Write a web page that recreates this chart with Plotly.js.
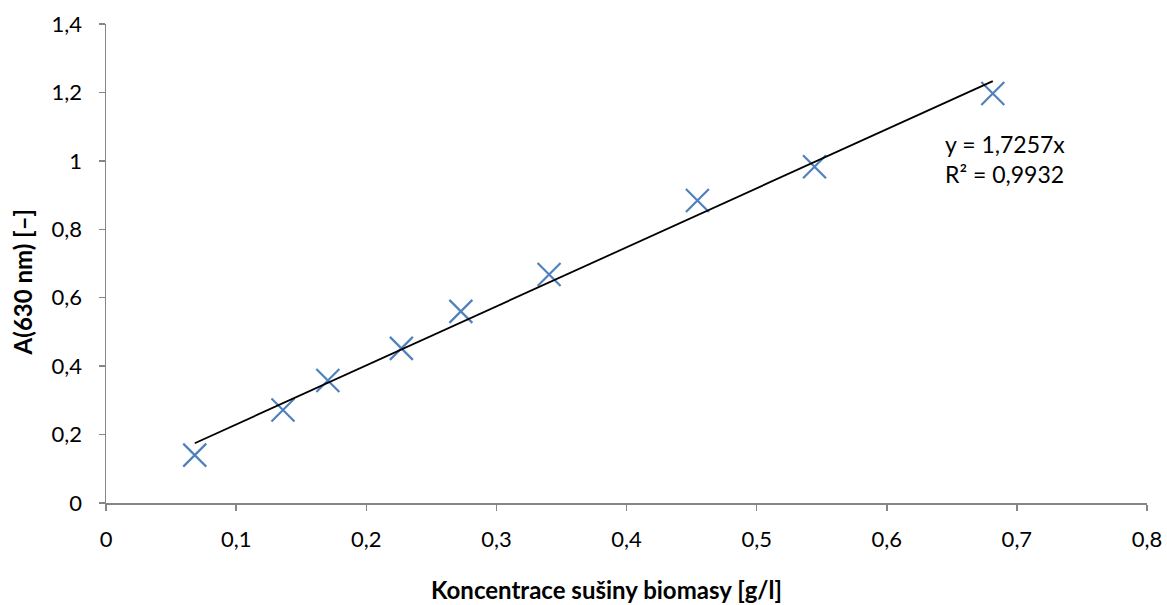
<!DOCTYPE html>
<html>
<head>
<meta charset="utf-8">
<script src="https://cdn.plot.ly/plotly-3.0.1.min.js"></script>
<style>html,body{margin:0;padding:0;background:#fff}#chart{width:1167px;height:605px}</style>
</head>
<body>
<div id="chart"></div>
<script>
// Data
const concentration = [0.0682, 0.136, 0.1705, 0.227, 0.2727, 0.3405, 0.4545, 0.5445, 0.6815];
const absorbance    = [0.140, 0.272, 0.358, 0.452, 0.560, 0.668, 0.884, 0.983, 1.197];
// Trendline as drawn in the picture
const trendSlope = [1.7257];
const trendOffset = [0.057];
const equationText = ["y = 1,7257x", "R² = 0,9932"];
const xTitle = "Koncentrace sušiny biomasy [g/l]";
const yTitle = "A(630 nm) [–]";
const xTicks = [0, 0.1, 0.2, 0.3, 0.4, 0.5, 0.6, 0.7, 0.8];
const yTicks = [0, 0.2, 0.4, 0.6, 0.8, 1, 1.2, 1.4];

const xMin = Math.min(...concentration), xMax = Math.max(...concentration);
const trendX = [xMin, xMax];
const trendY = trendX.map(v => trendSlope[0] * v + trendOffset[0]);

const font = "Lato, 'Open Sans', sans-serif";
const axisColor = '#868686';

const traces = [
  {
    x: concentration, y: absorbance, type: 'scatter', mode: 'markers',
    marker: {symbol: 'x-thin', size: 23, color: '#4F81BD', line: {color: '#4F81BD', width: 2.2}},
    showlegend: false, hoverinfo: 'x+y'
  },
  {
    x: trendX, y: trendY, type: 'scatter', mode: 'lines',
    line: {color: '#000000', width: 1.8},
    showlegend: false, hoverinfo: 'skip'
  }
];

const layout = {
  width: 1167, height: 605,
  margin: {l: 106, r: 19.5, t: 23.7, b: 102},
  paper_bgcolor: '#ffffff', plot_bgcolor: '#ffffff',
  separators: ', ',
  font: {family: font, size: 22, color: '#000000'},
  showlegend: false,
  xaxis: {
    range: [0, 0.8], tickvals: xTicks, ticks: 'outside', ticklen: 6, tickwidth: 1.5, tickcolor: axisColor,
    showline: true, linecolor: axisColor, linewidth: 1.5, showgrid: false, zeroline: false,
    ticklabelstandoff: 10,
    tickfont: {family: font, size: 22, color: '#000'}
  },
  yaxis: {
    range: [0, 1.4], tickvals: yTicks, ticks: 'outside', ticklen: 6, tickwidth: 1.5, tickcolor: axisColor,
    showline: true, linecolor: axisColor, linewidth: 1.5, showgrid: false, zeroline: false,
    ticklabelstandoff: 12,
    tickfont: {family: font, size: 22, color: '#000'}
  },
  annotations: [
    {
      xref: 'x', yref: 'y', x: 0.643, y: 1.095, xanchor: 'left', yanchor: 'top',
      text: equationText.join('<br>'), showarrow: false, align: 'left',
      font: {family: font, size: 23, color: '#000'}
    },
    {
      xref: 'paper', yref: 'paper', x: 0.481, y: -0.18, xanchor: 'center', yanchor: 'middle',
      text: '<b>' + xTitle + '</b>', showarrow: false,
      font: {family: font, size: 24, color: '#000'}
    },
    {
      xref: 'paper', yref: 'paper', x: -0.08, y: 0.46, xanchor: 'center', yanchor: 'middle',
      text: '<b>' + yTitle + '</b>', showarrow: false, textangle: -90,
      font: {family: font, size: 24, color: '#000'}
    }
  ]
};

Plotly.newPlot('chart', traces, layout, {staticPlot: true, displayModeBar: false});
</script>
</body>
</html>
